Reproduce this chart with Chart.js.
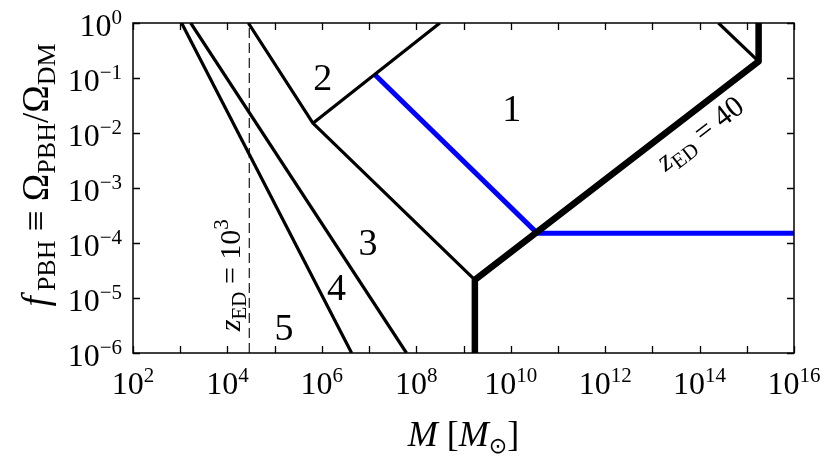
<!DOCTYPE html>
<html>
<head>
<meta charset="utf-8">
<script src="https://cdn.jsdelivr.net/npm/chart.js@4/dist/chart.umd.min.js"></script>
<style>
html,body{margin:0;padding:0;background:#fff;}
canvas{display:block;}
</style>
</head>
<body>
<canvas id="c" width="830" height="465"></canvas>
<script>
// ---- data ----
const line5M = [1.07e3, 4.27e6];
const line5F = [1, 1e-6];
const line4M = [1.67e3, 6.2e7];
const line4F = [1, 1e-6];
const line3M = [2.77e4, 6.46e5, 1.74e9];
const line3F = [1, 1.51e-2, 2.14e-5];
const line2M = [6.46e5, 3.16e8];
const line2F = [1.51e-2, 1];
const blueM = [1.35e7, 3.63e10, 1e16];
const blueF = [0.1135, 1.51e-4, 1.51e-4];
const thickM = [1.74e9, 1.74e9, 1.78e15, 1.78e15];
const thickF = [1e-6, 2.14e-5, 0.2, 1];
const thinTopM = [2.51e14, 1.78e15];
const thinTopF = [1, 0.2];
const dashedM = [2.9e4, 2.9e4];
const dashedF = [1e-6, 1];

const xTickExps = [2, 4, 6, 8, 10, 12, 14, 16];
const xMinorExps = [3, 5, 7, 9, 11, 13, 15];
const yTickExps = [0, -1, -2, -3, -4, -5, -6];

const regionTexts = ['1', '2', '3', '4', '5'];
const regionM = [1.05e10, 1.05e6, 9.5e6, 2.04e6, 1.58e5];
const regionF = [2.8e-2, 0.106, 1.05e-4, 1.6e-5, 3.0e-6];

const pts = (xs, ys) => xs.map((x, i) => ({x: x, y: ys[i]}));

const SERIF = '"Liberation Serif", "DejaVu Serif", serif';

function richWidth(ctx, parts) {
  let w = 0;
  for (const p of parts) { ctx.font = p.font; w += ctx.measureText(p.t).width; }
  return w;
}
function drawRich(ctx, parts, x, y, align) {
  const w = richWidth(ctx, parts);
  let cx = x;
  if (align === 'center') cx = x - w / 2;
  else if (align === 'right') cx = x - w;
  ctx.textAlign = 'left';
  ctx.textBaseline = 'alphabetic';
  for (const p of parts) {
    ctx.font = p.font;
    ctx.fillText(p.t, cx, y + (p.dy || 0));
    cx += ctx.measureText(p.t).width;
  }
}

const frame = {
  id: 'frame',
  afterDatasetsDraw(chart) {
    const ctx = chart.ctx;
    const a = chart.chartArea;
    const xs = chart.scales.x, ys = chart.scales.y;
    ctx.save();
    ctx.fillStyle = '#000';
    ctx.strokeStyle = '#000';
    // region labels
    for (let i = 0; i < regionTexts.length; i++) {
      const px = xs.getPixelForValue(regionM[i]);
      const py = ys.getPixelForValue(regionF[i]);
      ctx.font = '38px ' + SERIF;
      ctx.textAlign = 'center';
      ctx.textBaseline = 'alphabetic';
      ctx.fillText(regionTexts[i], px, py + 13);
    }
    // z_ED = 40 label along thick line
    {
      const x1 = xs.getPixelForValue(thickM[1]), y1 = ys.getPixelForValue(thickF[1]);
      const x2 = xs.getPixelForValue(thickM[2]), y2 = ys.getPixelForValue(thickF[2]);
      const ang = Math.atan2(y2 - y1, x2 - x1);
      const px = xs.getPixelForValue(1.0e14), py = ys.getPixelForValue(1.0e-2);
      ctx.save();
      ctx.translate(px, py);
      ctx.rotate(ang);
      drawRich(ctx, [
        {t: 'z', font: 'italic 30px ' + SERIF},
        {t: 'ED', font: '21px ' + SERIF, dy: 6},
        {t: ' = 40', font: '30px ' + SERIF}
      ], 0, 10, 'center');
      ctx.restore();
    }
    // z_ED = 10^3 label along dashed line
    {
      const px = xs.getPixelForValue(dashedM[0]) - 9;
      const py = ys.getPixelForValue(2.6e-5);
      ctx.save();
      ctx.translate(px, py);
      ctx.rotate(-Math.PI / 2);
      drawRich(ctx, [
        {t: 'z', font: 'italic 30px ' + SERIF},
        {t: 'ED', font: '21px ' + SERIF, dy: 6},
        {t: ' = 10', font: '30px ' + SERIF},
        {t: '3', font: '21px ' + SERIF, dy: -12}
      ], 0, 0, 'center');
      ctx.restore();
    }
    // frame
    ctx.lineWidth = 1.5;
    ctx.strokeRect(a.left, a.top, a.right - a.left, a.bottom - a.top);
    // ticks
    const tl = 7;
    ctx.lineWidth = 1.3;
    ctx.beginPath();
    for (const e of xTickExps.concat(xMinorExps)) {
      const px = Math.round(xs.getPixelForValue(Math.pow(10, e))) + 0.5;
      ctx.moveTo(px, a.bottom); ctx.lineTo(px, a.bottom - tl);
      ctx.moveTo(px, a.top); ctx.lineTo(px, a.top + tl);
    }
    for (const e of yTickExps) {
      const py = Math.round(ys.getPixelForValue(Math.pow(10, e))) + 0.5;
      ctx.moveTo(a.left, py); ctx.lineTo(a.left + tl, py);
      ctx.moveTo(a.right, py); ctx.lineTo(a.right - tl, py);
    }
    ctx.stroke();
    // tick labels
    for (const e of xTickExps) {
      const px = xs.getPixelForValue(Math.pow(10, e));
      drawRich(ctx, [
        {t: '10', font: '32px ' + SERIF},
        {t: String(e), font: '21px ' + SERIF, dy: -12}
      ], px, a.bottom + 41, 'center');
    }
    for (const e of yTickExps) {
      const py = ys.getPixelForValue(Math.pow(10, e));
      drawRich(ctx, [
        {t: '10', font: '32px ' + SERIF},
        {t: e === 0 ? '0' : '\u2212' + String(-e), font: '21px ' + SERIF, dy: -12}
      ], a.left - 11, py + 12.5, 'right');
    }
    // x title
    drawRich(ctx, [
      {t: 'M', font: 'italic 36px ' + SERIF},
      {t: ' [', font: '36px ' + SERIF},
      {t: 'M', font: 'italic 36px ' + SERIF},
      {t: '\u2299', font: '22px "DejaVu Sans", ' + SERIF, dy: 7},
      {t: ']', font: '36px ' + SERIF}
    ], (a.left + a.right) / 2, 446, 'center');
    // y title
    ctx.save();
    ctx.translate(48, 175);
    ctx.rotate(-Math.PI / 2);
    drawRich(ctx, [
      {t: 'f', font: 'italic 37px ' + SERIF},
      {t: '\u2009PBH', font: '26px ' + SERIF, dy: 7},
      {t: ' \u2261 \u03A9', font: '37px ' + SERIF},
      {t: 'PBH', font: '26px ' + SERIF, dy: 7},
      {t: '/\u03A9', font: '37px ' + SERIF},
      {t: 'DM', font: '26px ' + SERIF, dy: 7}
    ], 0, 0, 'center');
    ctx.restore();
    ctx.restore();
  }
};

const thin = {borderColor: '#000', borderWidth: 3.2};
function ds(data, style) {
  return Object.assign({
    data: data, showLine: true, pointRadius: 0, pointHoverRadius: 0,
    fill: false, tension: 0, clip: 0, borderJoinStyle: 'round', borderCapStyle: 'butt'
  }, style);
}

new Chart(document.getElementById('c'), {
  type: 'scatter',
  data: {
    datasets: [
      ds(pts(dashedM, dashedF), {borderColor: '#000', borderWidth: 1.1, borderDash: [10, 5]}),
      ds(pts(line5M, line5F), thin),
      ds(pts(line4M, line4F), thin),
      ds(pts(line3M, line3F), thin),
      ds(pts(line2M, line2F), thin),
      ds(pts(thinTopM, thinTopF), thin),
      ds(pts(thickM, thickF), {borderColor: '#000', borderWidth: 6.5}),
      ds(pts(blueM, blueF), {borderColor: '#0000ff', borderWidth: 5})
    ]
  },
  options: {
    responsive: false,
    animation: false,
    devicePixelRatio: 1,
    layout: {padding: {left: 133, right: 36, top: 23, bottom: 112}},
    plugins: {legend: {display: false}, tooltip: {enabled: false}},
    scales: {
      x: {type: 'logarithmic', min: 1e2, max: 1e16, display: false},
      y: {type: 'logarithmic', min: 1e-6, max: 1, display: false}
    }
  },
  plugins: [frame]
});
</script>
</body>
</html>
